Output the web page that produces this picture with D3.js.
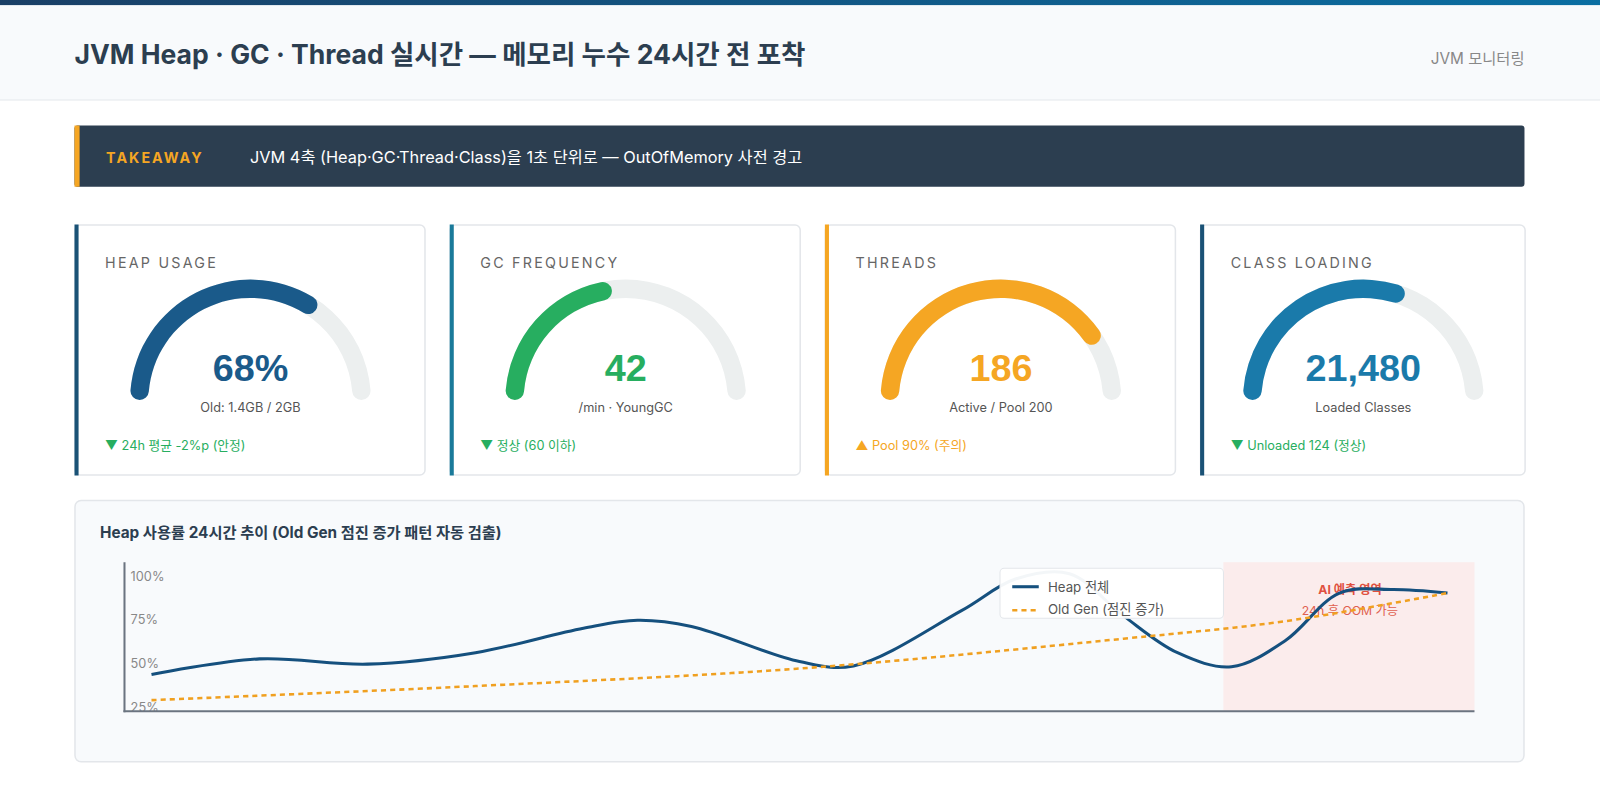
<!DOCTYPE html>
<html><head><meta charset="utf-8">
<script src="https://cdn.jsdelivr.net/npm/d3@7"></script>
<style>body{margin:0;background:#fff;font-family:Inter,'Noto Sans CJK KR',sans-serif}</style>
</head><body><svg id="c" width="1600" height="800"></svg>
<script>
const cardTitles=["HEAP USAGE","GC FREQUENCY","THREADS","CLASS LOADING"];
const cardValues=["68%","42","186","21,480"];
const cardFractions=[0.70,0.46,0.83,0.62];
const cardSubs=["Old: 1.4GB / 2GB","/min · YoungGC","Active / Pool 200","Loaded Classes"];
const cardNotes=["▼ 24h 평균 -2%p (안정)","▼ 정상 (60 이하)","▲ Pool 90% (주의)","▼ Unloaded 124 (정상)"];
const cardColors=["#1a5a8a","#27ae60","#f5a623","#1a7aaa"];
const borderColors=["#1a5276","#1a7a9a","#f5a623","#1a5276"];
const noteColors=["#27ae60","#27ae60","#f5a623","#27ae60"];
const hours=[0,2,4,6,8,9,10,12,13,15,16,17,18,19,20,21,22,23,24];
const heapAll=[43.6,52.5,49.5,56,70,74.5,71,51,48.5,80,98,101,77,56,48,63,90,92,90];
const oldHours=[0,6,12,18,21,24];
const oldGen=[29,37,47,64,74,90];
const yTicks=[25,50,75,100];

const root=d3.select("#c");
const svg=root.append("g").attr("transform","scale(1.0204)");
const defs=root.append("defs");
const g=defs.append("linearGradient").attr("id","tb");
g.append("stop").attr("offset","0").attr("stop-color","#1a3f66");
g.append("stop").attr("offset","1").attr("stop-color","#0a6fa3");
svg.append("rect").attr("width",1600).attr("height",98).attr("fill","#f8fafc");
svg.append("rect").attr("width",1600).attr("height",5).attr("fill","url(#tb)");
svg.append("line").attr("x1",0).attr("x2",1600).attr("y1",98).attr("y2",98).attr("stroke","#e3e7ec");
svg.append("text").attr("x",73).attr("y",63).attr("font-size",26).attr("font-weight",700).attr("fill","#2c3e50").text("JVM Heap · GC · Thread 실시간 — 메모리 누수 24시간 전 포착");
svg.append("text").attr("x",1494).attr("y",63).attr("text-anchor","end").attr("font-size",15).attr("fill","#888").text("JVM 모니터링");

svg.append("rect").attr("x",73).attr("y",123).attr("width",1421).attr("height",60).attr("rx",3).attr("fill","#2c3e50");
svg.append("rect").attr("x",73).attr("y",123).attr("width",5).attr("height",60).attr("fill","#f5a623");
svg.append("text").attr("x",104).attr("y",160).attr("font-size",14).attr("font-weight",700).attr("letter-spacing",2).attr("fill","#f5a623").text("TAKEAWAY");
svg.append("text").attr("x",245).attr("y",160).attr("font-size",16).attr("fill","#fff").text("JVM 4축 (Heap·GC·Thread·Class)을 1초 단위로 — OutOfMemory 사전 경고");

const span=0.5*Math.PI;
const arcBg=d3.arc().innerRadius(100).outerRadius(118).startAngle(-span).endAngle(span).cornerRadius(9);
cardTitles.forEach((t,i)=>{
  const x0=73+i*367.7, w=i==3?318:343;
  const cg=svg.append("g").attr("transform",`translate(${x0},220)`);
  cg.append("rect").attr("x",0.5).attr("y",0.5).attr("width",w).attr("height",245).attr("rx",5).attr("fill","#fff").attr("stroke","#e3e6ea").attr("stroke-width",1.5);
  cg.append("rect").attr("width",4).attr("height",246).attr("fill",borderColors[i]);
  cg.append("text").attr("x",30).attr("y",43).attr("font-size",14).attr("letter-spacing",2.2).attr("fill","#666").text(t);
  const cx=w/2+1, cy=172;
  const ag=cg.append("g").attr("transform",`translate(${cx},${cy})`);
  ag.append("path").attr("d",arcBg()).attr("fill","#ecefef");
  ag.append("path").attr("d",d3.arc().innerRadius(100).outerRadius(118).startAngle(-span).endAngle(-span+2*span*cardFractions[i]).cornerRadius(9)()).attr("fill",cardColors[i]);
  cg.append("text").attr("x",cx).attr("y",153).attr("text-anchor","middle").attr("font-family","'Liberation Sans',Arial,sans-serif").attr("font-size",37).attr("font-weight",700).attr("fill",cardColors[i]).text(cardValues[i]);
  cg.append("text").attr("x",cx).attr("y",184).attr("text-anchor","middle").attr("font-size",12.5).attr("fill","#555").text(cardSubs[i]);
  cg.append("text").attr("x",30).attr("y",221).attr("font-size",12.5).attr("fill",noteColors[i]).text(cardNotes[i]);
});

svg.append("rect").attr("x",73.5).attr("y",490.5).attr("width",1420).attr("height",256).attr("rx",6).attr("fill","#f8fafc").attr("stroke","#e3e6ea").attr("stroke-width",1.5);
svg.append("text").attr("x",98).attr("y",527).attr("font-size",15).attr("font-weight",700).attr("fill","#2c3e50").text("Heap 사용률 24시간 추이 (Old Gen 점진 증가 패턴 자동 검출)");
const x=d3.scaleLinear().domain([-0.5,24.5]).range([122,1445]);
const y=d3.scaleLinear().domain([25,100]).range([693,564]);
svg.append("rect").attr("x",x(19.85)).attr("y",551).attr("width",x(24.5)-x(19.85)).attr("height",146).attr("fill","#fbeaea").attr("opacity",0.9);
svg.append("text").attr("x",1323).attr("y",582).attr("text-anchor","middle").attr("font-size",12).attr("font-weight",700).attr("fill","#e05040").text("AI 예측 영역");
svg.append("text").attr("x",1323).attr("y",603).attr("text-anchor","middle").attr("font-size",12).attr("fill","#e06050").text("24h 후 OOM 가능");
yTicks.forEach(v=>svg.append("text").attr("x",128).attr("y",y(v)+5).attr("font-size",12.5).attr("fill","#888").text(v+"%"));
const line=d3.line().x(d=>x(d[0])).y(d=>y(d[1])).curve(d3.curveCatmullRom.alpha(0.5));
svg.append("path").attr("d",line(hours.map((h,i)=>[h,heapAll[i]]))).attr("fill","none").attr("stroke","#15507e").attr("stroke-width",3);
svg.append("path").attr("d",line(oldHours.map((h,i)=>[h,oldGen[i]]))).attr("fill","none").attr("stroke","#f0a020").attr("stroke-width",2.5).attr("stroke-dasharray","5,4");
svg.append("line").attr("x1",122).attr("x2",122).attr("y1",551).attr("y2",698).attr("stroke","#6b7480").attr("stroke-width",2);
svg.append("line").attr("x1",121).attr("x2",1445).attr("y1",697).attr("y2",697).attr("stroke","#6b7480").attr("stroke-width",2);
const lg=svg.append("g").attr("transform","translate(980,557)");
lg.append("rect").attr("width",219).attr("height",49).attr("rx",4).attr("fill","#fff").attr("fill-opacity",0.95).attr("stroke","#e3e6ea");
lg.append("line").attr("x1",12).attr("x2",38).attr("y1",18).attr("y2",18).attr("stroke","#15507e").attr("stroke-width",3);
lg.append("line").attr("x1",12).attr("x2",38).attr("y1",41).attr("y2",41).attr("stroke","#f0a020").attr("stroke-width",2.5).attr("stroke-dasharray","5,4");
lg.append("text").attr("x",47).attr("y",23).attr("font-size",13).attr("fill","#555").text("Heap 전체");
lg.append("text").attr("x",47).attr("y",45).attr("font-size",13).attr("fill","#555").text("Old Gen (점진 증가)");
</script></body></html>
